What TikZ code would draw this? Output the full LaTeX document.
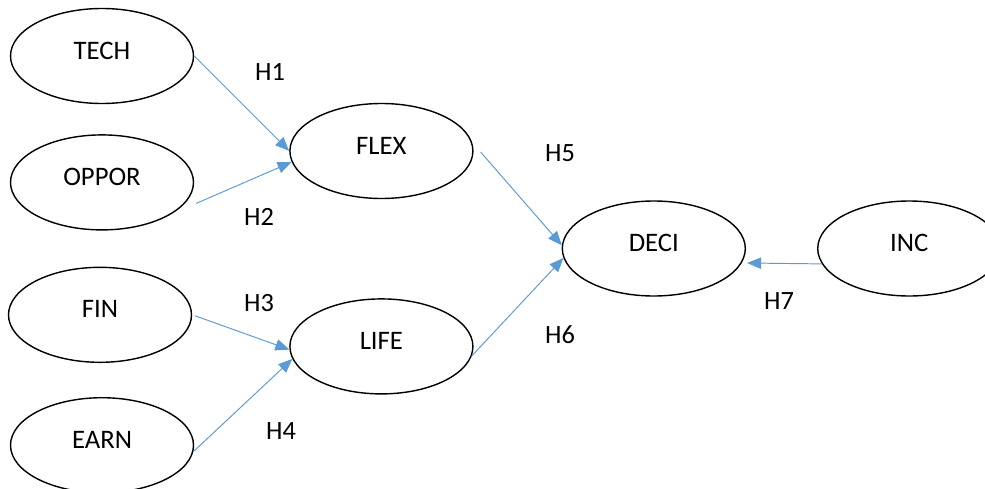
\documentclass[tikz,border=0pt]{standalone}
\usepackage{fontspec}
\setmainfont{Carlito}
\usepackage{tikz}
\usetikzlibrary{positioning, calc, shapes.geometric, arrows.meta}

\begin{document}
\begin{tikzpicture}[
    node distance = 0.6cm and 1.9cm,
    construct/.style = {ellipse, draw=black, line width=0.8pt, fill=white, minimum width=3.66cm, minimum height=1.9cm, inner sep=0pt, text depth=0.22cm, font=\fontsize{15.2}{18}\selectfont},
    hyp/.style = {font=\fontsize{15}{18}\selectfont, inner sep=0pt},
    arrow/.style = {draw, -{Triangle[length=8pt, width=6.5pt]}, line width=0.55pt, color=wordblue}
]
    % Colors definition
    \definecolor{wordblue}{RGB}{91, 155, 213}

    \useasboundingbox (-2.04,1.12) rectangle (17.66,-8.64);

    % Nodes
    \node (tech) [construct] at (0,0) {TECH};
    \node (oppor) [construct, below=0.6cm of tech] {OPPOR};
    \node (fin) [construct, below=0.72cm of oppor, xshift=-0.04cm] {FIN};
    \node (earn) [construct, below=0.68cm of fin, xshift=0.04cm] {EARN};

    \node (flex) [construct, right=1.9cm of tech, yshift=-1.9cm] {FLEX};
    \node (life) [construct, below=1.98cm of flex] {LIFE};

    \node (deci) [construct, right=1.76cm of flex, yshift=-1.95cm] {DECI};
    \node (inc) [construct, right=1.42cm of deci] {INC};

    % Connections
    \draw [arrow] (tech.east) -- (flex.west);
    \draw [arrow] ($(oppor.east)+(0.04,-0.42)$) -- (flex.187);
    \draw [arrow] ($(fin.east)+(0.06,-0.02)$) -- (life.182);
    \draw [arrow] (earn.-4) -- (life.188);
    \draw [arrow] ($(flex.east)+(0.14,-0.02)$) -- (deci.178);
    \draw [arrow] (life.-6) -- (deci.186);
    \draw [arrow] (inc.190) -- ($(deci.east)+(0.02,-0.29)$);

    % Labels
    \node (h1) [hyp] at (3.36,-0.32) {H1};
    \node (h2) [hyp] at (3.14,-3.22) {H2};
    \node (h3) [hyp] at (3.14,-4.94) {H3};
    \node (h4) [hyp] at (3.58,-7.50) {H4};
    \node (h5) [hyp] at (9.16,-1.94) {H5};
    \node (h6) [hyp] at (9.16,-5.58) {H6};
    \node (h7) [hyp] at (13.54,-4.90) {H7};

\end{tikzpicture}
\end{document}
